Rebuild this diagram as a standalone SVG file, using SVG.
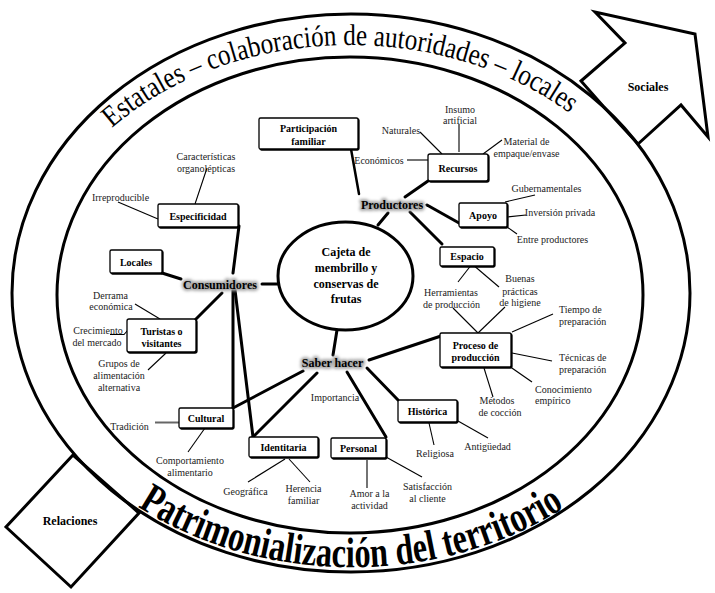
<svg xmlns="http://www.w3.org/2000/svg" width="715" height="593" viewBox="0 0 715 593">
<defs>
<style>
.big{fill:#fff;stroke:#000;stroke-width:3;stroke-linejoin:miter}
.ring{fill:none;stroke:#000;stroke-width:3}
.box{fill:#fff;stroke:#000;stroke-width:1.3}
.serif{font-family:"Liberation Serif","Times New Roman","DejaVu Serif","Noto Serif",serif}
.bt{font-family:"Liberation Serif","Times New Roman","DejaVu Serif","Noto Serif",serif;font-weight:bold;font-size:10px;text-anchor:middle;fill:#000}
.lt{font-family:"Liberation Serif","Times New Roman","DejaVu Serif","Noto Serif",serif;font-size:10px;text-anchor:middle;fill:#222}
.ls{text-anchor:start}
.hub{font-family:"Liberation Serif","Times New Roman","DejaVu Serif","Noto Serif",serif;font-weight:bold;font-size:12px;text-anchor:middle;fill:#000}
.halo{fill:#999;stroke:#aaa;stroke-width:4;stroke-linejoin:round}
.thick line,.thick polyline{stroke:#000;stroke-width:3;fill:none;stroke-linecap:round}
.thin line,.thin polyline{stroke:#000;stroke-width:1.1;fill:none}
</style>
<filter id="sh" x="-10%" y="-10%" width="130%" height="140%"><feDropShadow dx="1" dy="1" stdDeviation="0.3" flood-color="#000" flood-opacity="1"/></filter>
<filter id="glow" x="-20%" y="-60%" width="140%" height="220%"><feGaussianBlur stdDeviation="1.6"/></filter>
<path id="topArc" d="M112,127.9 A320,250 0 0 1 570,113.5"/>
<path id="botArc" d="M138,506.6 A340,272 0 0 0 565,507.2"/>
</defs>
<rect width="715" height="593" fill="#fff"/>

<g id="sociales">
<polygon class="big" points="595,12 625,43 581,81 603,106 638,144 681,105 708,137 695,34"/>
<text class="hub" x="648" y="90.5">Sociales</text>
</g>
<g id="relaciones">
<polygon class="big" points="73,455 6,527 71,587 139,513"/>
<text class="hub" x="70" y="524.5">Relaciones</text>
</g>

<g id="rings">
<ellipse class="ring" cx="351" cy="293" rx="339" ry="279"/>
<ellipse class="ring" cx="350" cy="295" rx="293" ry="238"/>
</g>

<g id="arc-texts">
<text class="serif" font-size="30" fill="#000"><textPath href="#topArc" textLength="491" lengthAdjust="spacingAndGlyphs">Estatales – colaboración de autoridades – locales</textPath></text>
<text class="serif" font-size="43" font-weight="bold" fill="#000"><textPath href="#botArc" textLength="449" lengthAdjust="spacingAndGlyphs">Patrimonialización del territorio</textPath></text>
</g>

<g id="connectors">
<g class="thick">
<line x1="162" y1="273" x2="181" y2="279"/>
<line x1="239" y1="226" x2="233" y2="273"/>
<line x1="262" y1="284" x2="280" y2="284"/>
<line x1="222" y1="293" x2="195" y2="320"/>
<line x1="233" y1="290" x2="233" y2="408"/>
<line x1="235" y1="290" x2="253" y2="437"/>
<line x1="378" y1="225" x2="388" y2="213"/>
<line x1="337" y1="330" x2="333" y2="355"/>
<line x1="233" y1="408" x2="303" y2="371"/>
<line x1="253" y1="437" x2="317" y2="373"/>
<line x1="347" y1="372" x2="386" y2="437"/>
<line x1="367" y1="368" x2="398" y2="400"/>
<line x1="369" y1="360" x2="441" y2="336"/>
<line x1="359" y1="194" x2="351" y2="149" style="stroke-width:2.5"/>
<line x1="405" y1="197" x2="428" y2="181"/>
<line x1="427" y1="205" x2="459" y2="223"/>
<line x1="410" y1="212" x2="442" y2="244"/>
</g>
<g class="thin">
<line x1="207" y1="168" x2="195" y2="204"/>
<line x1="118" y1="202" x2="158" y2="219"/>
<line x1="135" y1="304" x2="160" y2="319"/>
<polyline points="110,334.5 124,334.5 128,330"/>
<line x1="148" y1="370" x2="166" y2="353"/>
<line x1="155" y1="422.5" x2="179" y2="422.5" style="stroke:#666;stroke-width:2"/>
<line x1="188" y1="452" x2="205" y2="428"/>
<line x1="248" y1="482" x2="285" y2="459"/>
<line x1="289" y1="459" x2="310" y2="482"/>
<line x1="367" y1="460" x2="367" y2="488"/>
<line x1="386" y1="457" x2="422" y2="477"/>
<line x1="429" y1="423" x2="434" y2="445"/>
<line x1="458" y1="421" x2="488" y2="438"/>
<line x1="484" y1="368" x2="493" y2="397"/>
<line x1="509" y1="366" x2="532" y2="382"/>
<line x1="512" y1="353" x2="552" y2="361"/>
<line x1="512" y1="332" x2="553" y2="314"/>
<line x1="453" y1="308" x2="478" y2="333"/>
<line x1="478" y1="333" x2="505" y2="307"/>
<line x1="472" y1="264" x2="458" y2="282"/>
<line x1="472" y1="264" x2="499" y2="287"/>
<line x1="505" y1="202" x2="535" y2="195"/>
<line x1="507" y1="217" x2="526" y2="215"/>
<line x1="507" y1="227" x2="517" y2="234"/>
<line x1="407" y1="160" x2="428" y2="160"/>
<line x1="420" y1="132" x2="442" y2="154"/>
<line x1="459" y1="124" x2="459" y2="152"/>
<line x1="483" y1="154" x2="502" y2="140"/>
</g>
</g>

<g id="centro">
<ellipse cx="345.5" cy="276" rx="67.5" ry="54" fill="#fff" stroke="#000" stroke-width="3"/>
<text class="hub" font-size="15" x="346" y="256">Cajeta de</text>
<text class="hub" font-size="15" x="346" y="272">membrillo y</text>
<text class="hub" font-size="15" x="346" y="288">conservas de</text>
<text class="hub" font-size="15" x="346" y="303">frutas</text>
</g>

<g id="consumidores">
<text class="hub halo" x="220" y="289" filter="url(#glow)">Consumidores</text>
<text class="hub" x="220" y="289">Consumidores</text>
</g>
<g id="productores">
<text class="hub halo" x="392" y="209" filter="url(#glow)">Productores</text>
<text class="hub" x="392" y="209">Productores</text>
</g>
<g id="saber-hacer">
<text class="hub halo" x="332.5" y="367" filter="url(#glow)">Saber hacer</text>
<text class="hub" x="332.5" y="367">Saber hacer</text>
</g>

<g id="participacion"><rect class="box" filter="url(#sh)" x="259" y="118" width="99" height="31" rx="1.5"/>
<text class="bt" x="308.5" y="131.5">Participación</text><text class="bt" x="308.5" y="144.5">familiar</text></g>
<g id="recursos"><rect class="box" filter="url(#sh)" x="428" y="154" width="60" height="27" rx="2"/>
<text class="bt" x="458" y="171.5">Recursos</text></g>
<g id="apoyo"><rect class="box" filter="url(#sh)" x="459" y="203" width="48" height="24" rx="1.5"/>
<text class="bt" x="483" y="218.5">Apoyo</text></g>
<g id="espacio"><rect class="box" filter="url(#sh)" x="440" y="247" width="54" height="19" rx="1.5"/>
<text class="bt" x="467" y="260">Espacio</text></g>
<g id="proceso"><rect class="box" filter="url(#sh)" x="440" y="333" width="71" height="34" rx="1.5"/>
<text class="bt" x="475.5" y="348.5">Proceso de</text><text class="bt" x="475.5" y="360.5">producción</text></g>
<g id="historica"><rect class="box" filter="url(#sh)" x="398" y="400" width="59" height="22" rx="1.5"/>
<text class="bt" x="427.5" y="414.5">Histórica</text></g>
<g id="personal"><rect class="box" filter="url(#sh)" x="331" y="438" width="55" height="20" rx="1.5"/>
<text class="bt" x="358.5" y="451.5">Personal</text></g>
<g id="identitaria"><rect class="box" filter="url(#sh)" x="249" y="437" width="69" height="20" rx="1.5"/>
<text class="bt" x="283.5" y="450.5">Identitaria</text></g>
<g id="cultural"><rect class="box" filter="url(#sh)" x="179" y="408" width="54" height="20" rx="1.5"/>
<text class="bt" x="206" y="421.5">Cultural</text></g>
<g id="turistas"><rect class="box" filter="url(#sh)" x="127" y="319" width="69" height="33" rx="2"/>
<text class="bt" x="161.5" y="335">Turistas o</text><text class="bt" x="161.5" y="346.5">visitantes</text></g>
<g id="locales"><rect class="box" filter="url(#sh)" x="110" y="250" width="52" height="23" rx="1.5"/>
<text class="bt" x="136" y="265.5">Locales</text></g>
<g id="especificidad"><rect class="box" filter="url(#sh)" x="158" y="204" width="80" height="23" rx="1.5"/>
<text class="bt" x="198" y="219.5">Especificidad</text></g>

<g id="hojas">
<text class="lt" x="206" y="160">Características</text><text class="lt" x="206" y="171.5">organolépticas</text>
<text class="lt" x="120.5" y="200.5">Irreproducible</text>
<text class="lt" x="110.5" y="298.5">Derrama</text><text class="lt" x="111" y="310">económica</text>
<text class="lt" x="98" y="334">Crecimiento</text><text class="lt" x="97" y="346">del mercado</text>
<text class="lt" x="119" y="367">Grupos de</text><text class="lt" x="119" y="378.5">alimentación</text><text class="lt" x="119" y="391">alternativa</text>
<text class="lt" x="129.5" y="430">Tradición</text>
<text class="lt" x="190" y="464">Comportamiento</text><text class="lt" x="190" y="476">alimentario</text>
<text class="lt" x="245.5" y="495">Geográfica</text>
<text class="lt" x="303.5" y="492">Herencia</text><text class="lt" x="303.5" y="503.5">familiar</text>
<text class="lt" x="369.5" y="497">Amor a la</text><text class="lt" x="369.5" y="508.5">actividad</text>
<text class="lt" x="427.5" y="490">Satisfacción</text><text class="lt" x="427.5" y="502">al cliente</text>
<text class="lt" x="335" y="401">Importancia</text>
<text class="lt" x="435" y="457">Religiosa</text>
<text class="lt" x="487.5" y="450">Antigüedad</text>
<text class="lt" x="497" y="404">Métodos</text><text class="lt" x="500" y="416">de cocción</text>
<text class="lt ls" x="535" y="392.5">Conocimiento</text><text class="lt ls" x="535" y="404">empírico</text>
<text class="lt ls" x="559" y="313">Tiempo de</text><text class="lt ls" x="559" y="324.5">preparación</text>
<text class="lt ls" x="559" y="361">Técnicas de</text><text class="lt ls" x="559" y="372.5">preparación</text>
<text class="lt" x="451" y="296">Herramientas</text><text class="lt" x="451.5" y="307.5">de producción</text>
<text class="lt" x="520" y="282">Buenas</text><text class="lt" x="520" y="294.5">prácticas</text><text class="lt" x="520" y="306">de higiene</text>
<text class="lt" x="546.5" y="192">Gubernamentales</text>
<text class="lt" x="560" y="216">Inversión privada</text>
<text class="lt" x="552.5" y="242.5">Entre productores</text>
<text class="lt" x="379" y="163.5">Económicos</text>
<text class="lt" x="401" y="133.5">Naturales</text>
<text class="lt" x="460" y="112.5">Insumo</text><text class="lt" x="460" y="123.5">artificial</text>
<text class="lt" x="526.5" y="145">Material de</text><text class="lt" x="526.5" y="157">empaque/envase</text>
</g>
</svg>
